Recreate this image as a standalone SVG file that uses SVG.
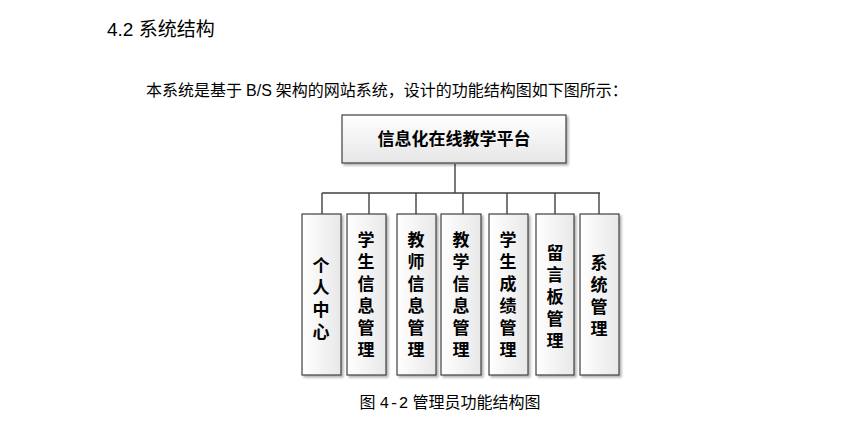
<svg xmlns="http://www.w3.org/2000/svg" width="841" height="439" viewBox="0 0 841 439">
<defs>
<linearGradient id="g" x1="0" y1="0" x2="0" y2="1"><stop offset="0" stop-color="#ffffff"/><stop offset="1" stop-color="#e6e6e6"/></linearGradient>
<linearGradient id="gh" x1="0" y1="0" x2="1" y2="0"><stop offset="0" stop-color="#ffffff"/><stop offset="1" stop-color="#e8e8e8"/></linearGradient>
<filter id="s" x="-10%" y="-10%" width="130%" height="130%"><feDropShadow dx="2" dy="2" stdDeviation="1.2" flood-color="#000" flood-opacity="0.3"/></filter>
</defs>
<style>
.b{stroke:#404040;stroke-width:1.2;filter:url(#s)}
.t{font-family:"Noto Sans CJK SC","Liberation Sans",sans-serif;font-weight:bold;font-size:17px;fill:#000;text-anchor:middle}
.c{stroke:#404040;stroke-width:1.4;fill:none}
</style>
<rect width="841" height="439" fill="#fff"/>
<text x="107" y="36" font-family="Liberation Sans,Noto Sans CJK SC,sans-serif" font-size="19" fill="#000">4.2 <tspan font-family="Noto Sans CJK SC,sans-serif">系统结构</tspan></text>
<text x="146" y="96" font-family="Liberation Serif,Noto Sans CJK SC,serif" font-size="16" fill="#000">本系统是基于 <tspan font-family="Liberation Sans,sans-serif">B/S</tspan> 架构的网站系统，设计的功能结构图如下图所示：</text>
<g id="connectors">
<path class="c" d="M455 164V193M322 193H600M322 193V214M369 193V214M416 193V214M463 193V214M507 193V214M555 193V214M599 193V214"/>
</g>
<g id="root"><rect class="b" x="342" y="115" width="224" height="48" fill="url(#g)"/><text class="t" x="454" y="145">信息化在线教学平台</text></g>
<g id="n1"><rect class="b" x="302" y="214" width="39" height="161" fill="url(#gh)"/><text class="t" x="321" y="272">个</text><text class="t" x="321" y="294">人</text><text class="t" x="321" y="316">中</text><text class="t" x="321" y="338">心</text></g>
<g id="n2"><rect class="b" x="347" y="214" width="39" height="161" fill="url(#gh)"/><text class="t" x="366" y="246">学</text><text class="t" x="366" y="268">生</text><text class="t" x="366" y="290">信</text><text class="t" x="366" y="312">息</text><text class="t" x="366" y="334">管</text><text class="t" x="366" y="356">理</text></g>
<g id="n3"><rect class="b" x="397" y="214" width="39" height="161" fill="url(#gh)"/><text class="t" x="416" y="246">教</text><text class="t" x="416" y="268">师</text><text class="t" x="416" y="290">信</text><text class="t" x="416" y="312">息</text><text class="t" x="416" y="334">管</text><text class="t" x="416" y="356">理</text></g>
<g id="n4"><rect class="b" x="441" y="214" width="40" height="161" fill="url(#gh)"/><text class="t" x="461" y="246">教</text><text class="t" x="461" y="268">学</text><text class="t" x="461" y="290">信</text><text class="t" x="461" y="312">息</text><text class="t" x="461" y="334">管</text><text class="t" x="461" y="356">理</text></g>
<g id="n5"><rect class="b" x="489" y="214" width="39" height="161" fill="url(#gh)"/><text class="t" x="508" y="246">学</text><text class="t" x="508" y="268">生</text><text class="t" x="508" y="290">成</text><text class="t" x="508" y="312">绩</text><text class="t" x="508" y="334">管</text><text class="t" x="508" y="356">理</text></g>
<g id="n6"><rect class="b" x="536" y="214" width="38" height="161" fill="url(#gh)"/><text class="t" x="555" y="259">留</text><text class="t" x="555" y="281">言</text><text class="t" x="555" y="303">板</text><text class="t" x="555" y="325">管</text><text class="t" x="555" y="347">理</text></g>
<g id="n7"><rect class="b" x="580" y="214" width="39" height="161" fill="url(#gh)"/><text class="t" x="599" y="269">系</text><text class="t" x="599" y="291">统</text><text class="t" x="599" y="313">管</text><text class="t" x="599" y="335">理</text></g>
<text x="450" y="408" font-family="Liberation Serif,Noto Sans CJK SC,serif" font-size="16" fill="#000" text-anchor="middle">图 <tspan font-family="Liberation Mono,monospace">4-2</tspan> 管理员功能结构图</text>
</svg>
